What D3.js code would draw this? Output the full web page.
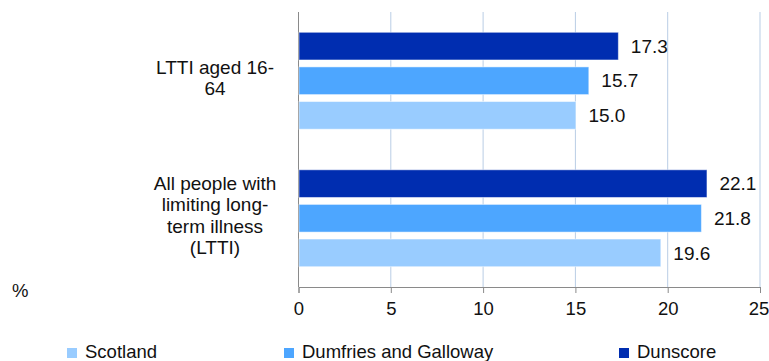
<!DOCTYPE html>
<html>
<head>
<meta charset="utf-8">
<script src="https://cdn.jsdelivr.net/npm/d3@7"></script>
<style>
  body { margin: 0; background: #fff; }
  svg { font-family: "Liberation Sans", Arial, sans-serif; }
</style>
</head>
<body>
<div id="chart"></div>
<script>
// chart data
const categories = ["LTTI aged 16-64", "All people with limiting long-term illness (LTTI)"];
const categoryLines = [["LTTI aged 16-", "64"], ["All people with", "limiting long-", "term illness", "(LTTI)"]];
const seriesNames = ["Scotland", "Dumfries and Galloway", "Dunscore"];
const scotland = [15.0, 19.6];
const dumfries = [15.7, 21.8];
const dunscore = [17.3, 22.1];
const xTicks = [0, 5, 10, 15, 20, 25];
const colors = ["#99ccff", "#4da6ff", "#002db0"];

const width = 769, height = 361;
const plotLeft = 298.5, plotRight = 760, plotTop = 12, plotBottom = 287;

const svg = d3.select("#chart").append("svg")
  .attr("width", width)
  .attr("height", height);

const x = d3.scaleLinear().domain([0, 25]).range([plotLeft, plotRight]);
const y0 = d3.scaleBand().domain(categories).range([plotTop, plotBottom])
  .paddingInner(0.295).paddingOuter(0.1475);
// Dunscore drawn on top within each group
const y1 = d3.scaleBand().domain(seriesNames.slice().reverse())
  .range([0, y0.bandwidth()]).paddingInner(0.2);

// gridlines
svg.append("g").selectAll("line")
  .data(xTicks.slice(1))
  .enter().append("line")
  .attr("x1", d => x(d)).attr("x2", d => x(d))
  .attr("y1", plotTop).attr("y2", plotBottom)
  .attr("stroke", "#b9cde5").attr("stroke-width", 1);

// bottom axis
const xAxis = svg.append("g")
  .attr("transform", "translate(0," + plotBottom + ")")
  .call(d3.axisBottom(x).tickValues(xTicks).tickSize(6).tickPadding(9));
xAxis.select(".domain").attr("stroke", "#8a8a8a");
xAxis.selectAll(".tick line").attr("stroke", "#8a8a8a");
xAxis.selectAll("text").attr("font-size", 18.5).attr("fill", "#111")
  .attr("font-family", "Liberation Sans, Arial, sans-serif");
// keep the last label inside the window
xAxis.selectAll(".tick text").filter(d => d === 25).attr("dx", -1.5);

// left axis line
svg.append("line")
  .attr("x1", plotLeft).attr("x2", plotLeft)
  .attr("y1", plotTop).attr("y2", plotBottom)
  .attr("stroke", "#8a8a8a");

const seriesValues = [scotland, dumfries, dunscore];
const rows = [];
categories.forEach((c, i) => {
  seriesNames.forEach((s, j) => {
    rows.push({ cat: c, series: s, value: seriesValues[j][i], color: colors[j] });
  });
});

const bars = svg.append("g");
bars.selectAll("rect")
  .data(rows)
  .enter().append("rect")
  .attr("x", x(0) + 0.5)
  .attr("y", d => y0(d.cat) + y1(d.series))
  .attr("width", d => x(d.value) - x(0))
  .attr("height", y1.bandwidth())
  .attr("fill", d => d.color)
  .attr("stroke", "rgba(255,255,255,0.5)")
  .attr("stroke-width", 1);

// value labels
bars.selectAll("text")
  .data(rows)
  .enter().append("text")
  .text(d => d.value.toFixed(1))
  .attr("x", d => x(d.value) + 13)
  .attr("y", d => y0(d.cat) + y1(d.series) + y1.bandwidth() / 2)
  .attr("dy", "0.35em")
  .attr("font-size", 19)
  .attr("fill", "#111");

// category labels
categories.forEach((c, i) => {
  const lines = categoryLines[i];
  const cy = y0(c) + y0.bandwidth() / 2 - 3;
  const lh = 21.5;
  const t = svg.append("text")
    .attr("text-anchor", "middle")
    .attr("font-size", 19)
    .attr("fill", "#111");
  lines.forEach((l, k) => {
    t.append("tspan")
      .attr("x", 215)
      .attr("y", cy - (lines.length - 1) * lh / 2 + k * lh)
      .attr("dy", "0.35em")
      .text(l);
  });
});

// percent label
svg.append("text")
  .attr("x", 12).attr("y", 291)
  .attr("dy", "0.35em")
  .attr("font-size", 18.5)
  .attr("fill", "#111")
  .text("%");

// legend
const legendX = [67, 284, 619];
const legend = svg.append("g");
seriesNames.forEach((s, j) => {
  legend.append("rect")
    .attr("x", legendX[j]).attr("y", 348)
    .attr("width", 10).attr("height", 10)
    .attr("fill", colors[j]);
  legend.append("text")
    .attr("x", legendX[j] + 18).attr("y", 352)
    .attr("dy", "0.35em")
    .attr("font-size", 18.5)
    .attr("fill", "#111")
    .text(s);
});
</script>
</body>
</html>
